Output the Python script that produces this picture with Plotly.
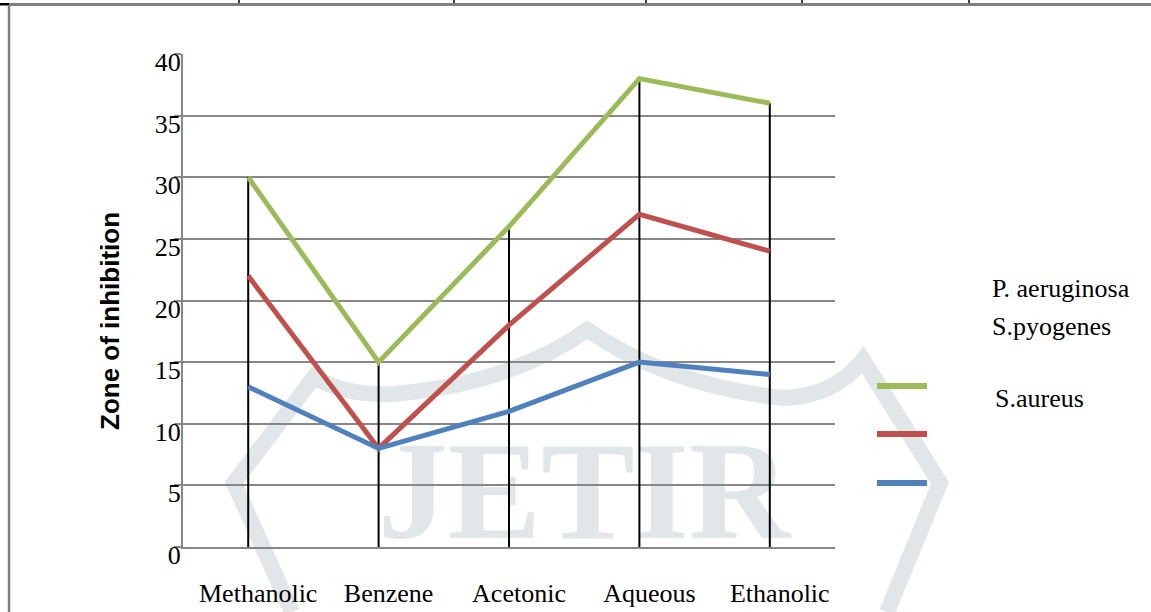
import plotly.graph_objects as go

# Extract types (x axis) and inhibition zones (mm) per organism
extracts = ["Methanolic", "Benzene", "Acetonic", "Aqueous", "Ethanolic"]
p_aeruginosa = [30, 15, 26, 38, 36]
s_pyogenes = [22, 8, 18, 27, 24]
s_aureus = [13, 8, 11, 15, 14]

series_names = ["P. aeruginosa", "S.pyogenes", "S.aureus"]
series_values = [p_aeruginosa, s_pyogenes, s_aureus]
series_colors = ["#9BBB59", "#C0504D", "#4F81BD"]

y_ticks = [0, 5, 10, 15, 20, 25, 30, 35, 40]

W, H = 1151, 612
L, R, T, B = 183, 316, 54, 65
PW, PH = W - L - R, H - T - B


def px(x):
    return (x - L) / PW


def py(y):
    return (H - B - y) / PH


fig = go.Figure()

# high-low drop lines from the highest value of each extract down to zero
hx, hy = [], []
for i, cat in enumerate(extracts):
    top = max(v[i] for v in series_values)
    hx += [cat, cat, None]
    hy += [0, top, None]
fig.add_trace(go.Scatter(x=hx, y=hy, mode="lines",
                         line=dict(color="black", width=2),
                         hoverinfo="skip", showlegend=False))

for name, vals, col in zip(series_names, series_values, series_colors):
    fig.add_trace(go.Scatter(x=extracts, y=vals, mode="lines", name=name,
                             line=dict(color=col, width=5),
                             showlegend=False))

grid = "#878787"
serif = "Liberation Serif"

shapes = []
annotations = []

# faint journal watermark behind the chart
wm = "#e1e7e9"
path = "M {:.4f},{:.4f}".format(px(292), py(612))
path += " L {:.4f},{:.4f}".format(px(234), py(483))
path += " L {:.4f},{:.4f}".format(px(314), py(377))
path += " Q {:.4f},{:.4f} {:.4f},{:.4f}".format(px(345), py(396), px(394), py(394))
path += " Q {:.4f},{:.4f} {:.4f},{:.4f}".format(px(510), py(384), px(587), py(330))
path += " Q {:.4f},{:.4f} {:.4f},{:.4f}".format(px(670), py(386), px(783), py(398))
path += " Q {:.4f},{:.4f} {:.4f},{:.4f}".format(px(835), py(396), px(863), py(360))
path += " L {:.4f},{:.4f}".format(px(940), py(483))
path += " L {:.4f},{:.4f}".format(px(887), py(612))
shapes.append(dict(type="path", xref="paper", yref="paper", path=path,
                   line=dict(color=wm, width=16), layer="below"))
shapes.append(dict(type="rect", xref="paper", yref="paper",
                   x0=px(376), x1=px(792), y0=py(530), y1=py(420),
                   line=dict(width=0), fillcolor="rgba(0,0,0,0)", layer="below",
                   label=dict(text="<b>JETIR</b>", textposition="middle center",
                              font=dict(family=serif, size=140, color=wm))))

# page table borders
shapes.append(dict(type="line", xref="paper", yref="paper",
                   x0=px(0), x1=px(W), y0=py(4.5), y1=py(4.5),
                   line=dict(color="#808080", width=3)))
shapes.append(dict(type="line", xref="paper", yref="paper",
                   x0=px(9), x1=px(9), y0=py(4), y1=py(H),
                   line=dict(color="#808080", width=2.5)))
shapes.append(dict(type="line", xref="paper", yref="paper",
                   x0=px(0), x1=px(9), y0=py(4), y1=py(4),
                   line=dict(color="black", width=2)))
for bx in [239, 454, 646, 802, 969]:
    shapes.append(dict(type="line", xref="paper", yref="paper",
                       x0=px(bx), x1=px(bx), y0=py(0), y1=py(3),
                       line=dict(color="black", width=1.5)))

# legend keys and labels
for col, ky in zip(series_colors, [386, 434, 483]):
    shapes.append(dict(type="line", xref="paper", yref="paper",
                       x0=px(877), x1=px(927), y0=py(ky), y1=py(ky),
                       line=dict(color=col, width=6)))
for name, lx, ly in zip(series_names, [990, 990, 993], [288, 326, 398]):
    annotations.append(dict(text=name, xref="paper", yref="paper",
                            x=px(lx), y=py(ly), xanchor="left", yanchor="middle",
                            showarrow=False,
                            font=dict(family=serif, size=26, color="black")))

# y axis title
annotations.append(dict(text="<b>Zone of inhibition</b>", xref="paper", yref="paper",
                        x=px(110), y=py(321), textangle=-90,
                        xanchor="center", yanchor="middle", showarrow=False,
                        font=dict(family="Liberation Sans", size=26, color="black")))

fig.update_layout(
    width=W, height=H,
    margin=dict(l=L, r=R, t=T, b=B, pad=0, autoexpand=False),
    paper_bgcolor="white", plot_bgcolor="rgba(0,0,0,0)",
    shapes=shapes, annotations=annotations,
    showlegend=False,
)
fig.update_xaxes(
    type="category", categoryorder="array", categoryarray=extracts,
    range=[-0.5, len(extracts) - 0.5], automargin=False,
    showgrid=False, zeroline=False,
    showline=True, linecolor=grid, linewidth=2,
    ticks="", ticklabelstandoff=22, ticklabelshift=10,
    tickfont=dict(family=serif, size=26, color="black"),
)
fig.update_yaxes(
    range=[0, 40], tickvals=y_ticks, ticktext=[str(v) for v in y_ticks],
    automargin=False,
    showgrid=True, gridcolor=grid, gridwidth=2, zeroline=False,
    showline=True, linecolor=grid, linewidth=2,
    ticks="outside", ticklen=7, tickcolor=grid, tickwidth=2,
    ticklabelstandoff=-12, ticklabelshift=8,
    tickfont=dict(family=serif, size=26, color="black"),
)

fig.write_html("out.html")
